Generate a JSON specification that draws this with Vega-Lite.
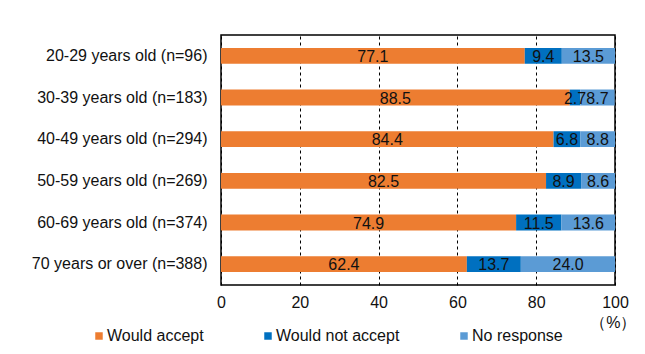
{
  "$schema": "https://vega.github.io/schema/vega-lite/v6.json",
  "autosize": "none",
  "width": 394,
  "height": 250,
  "padding": {"left": 221, "top": 35, "right": 30, "bottom": 69},
  "background": "white",
  "config": {
    "font": "Liberation Sans",
    "view": {"stroke": "#000", "strokeWidth": 1.5},
    "axis": {"labelFont": "Liberation Sans", "labelFontSize": 16, "labelColor": "#111"},
    "legend": {"labelFont": "Liberation Sans", "labelFontSize": 16, "labelColor": "#111", "padding": 0}
  },
  "data": {
    "values": [
      {"age": "20-29 years old (n=96)", "resp": "Would accept", "k": 1, "value": 77.1},
      {"age": "20-29 years old (n=96)", "resp": "Would not accept", "k": 2, "value": 9.4},
      {"age": "20-29 years old (n=96)", "resp": "No response", "k": 3, "value": 13.5},
      {"age": "30-39 years old (n=183)", "resp": "Would accept", "k": 1, "value": 88.5},
      {"age": "30-39 years old (n=183)", "resp": "Would not accept", "k": 2, "value": 2.7},
      {"age": "30-39 years old (n=183)", "resp": "No response", "k": 3, "value": 8.7},
      {"age": "40-49 years old (n=294)", "resp": "Would accept", "k": 1, "value": 84.4},
      {"age": "40-49 years old (n=294)", "resp": "Would not accept", "k": 2, "value": 6.8},
      {"age": "40-49 years old (n=294)", "resp": "No response", "k": 3, "value": 8.8},
      {"age": "50-59 years old (n=269)", "resp": "Would accept", "k": 1, "value": 82.5},
      {"age": "50-59 years old (n=269)", "resp": "Would not accept", "k": 2, "value": 8.9},
      {"age": "50-59 years old (n=269)", "resp": "No response", "k": 3, "value": 8.6},
      {"age": "60-69 years old (n=374)", "resp": "Would accept", "k": 1, "value": 74.9},
      {"age": "60-69 years old (n=374)", "resp": "Would not accept", "k": 2, "value": 11.5},
      {"age": "60-69 years old (n=374)", "resp": "No response", "k": 3, "value": 13.6},
      {"age": "70 years or over (n=388)", "resp": "Would accept", "k": 1, "value": 62.4},
      {"age": "70 years or over (n=388)", "resp": "Would not accept", "k": 2, "value": 13.7},
      {"age": "70 years or over (n=388)", "resp": "No response", "k": 3, "value": 24.0}
    ]
  },
  "encoding": {
    "y": {
      "field": "age", "type": "nominal", "sort": null,
      "scale": {"paddingInner": 0.62, "paddingOuter": 0.31},
      "axis": {"title": null, "ticks": false, "tickSize": 0, "domain": false, "labelPadding": 14}
    },
    "order": {"field": "k", "type": "quantitative"}
  },
  "layer": [
    {
      "mark": {"type": "bar", "clip": true},
      "encoding": {
        "x": {
          "field": "value", "type": "quantitative", "stack": "zero",
          "scale": {"domain": [0, 100], "nice": false},
          "axis": {
            "values": [0, 20, 40, 60, 80, 100],
            "grid": true, "gridColor": "#000", "gridDash": [3, 3], "gridWidth": 1,
            "ticks": false, "tickSize": 0, "domain": false, "labelPadding": 9, "labelFlush": false,
            "title": "（%）", "titleFont": "Liberation Sans", "titleFontSize": 16, "titleFontWeight": "normal",
            "titleColor": "#111", "titleAnchor": null, "titleAlign": "right", "titleBaseline": "middle",
            "titleX": 415, "titleY": 37
          }
        },
        "color": {
          "field": "resp", "type": "nominal",
          "scale": {"domain": ["Would accept", "Would not accept", "No response"], "range": ["#ED7D31", "#0070C0", "#5B9BD5"]},
          "legend": {
            "title": null, "orient": "none", "direction": "horizontal", "columns": 3,
            "legendX": -130, "legendY": 293, "symbolType": "square", "symbolSize": 56,
            "symbolStrokeWidth": 0, "labelOffset": 0, "columnPadding": 56
          }
        }
      }
    },
    {
      "mark": {"type": "text", "fontSize": 16, "color": "#111", "font": "Liberation Sans", "baseline": "middle", "dy": 1},
      "encoding": {
        "x": {"field": "value", "type": "quantitative", "stack": "zero", "bandPosition": 0.5},
        "detail": {"field": "resp", "type": "nominal"},
        "text": {"field": "value", "type": "quantitative", "format": ".1f"}
      }
    }
  ]
}
